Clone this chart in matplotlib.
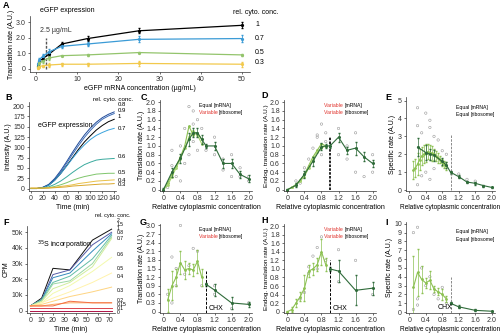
import matplotlib
matplotlib.use("Agg")
import matplotlib.pyplot as plt
import numpy as np

plt.rcParams['font.family'] = ['Liberation Sans', 'DejaVu Sans']
plt.rcParams['font.size'] = 5
plt.rcParams['axes.linewidth'] = 0.5
plt.rcParams['xtick.major.width'] = 0.5
plt.rcParams['ytick.major.width'] = 0.5
plt.rcParams['xtick.major.size'] = 1.5
plt.rcParams['ytick.major.size'] = 1.5
plt.rcParams['xtick.major.pad'] = 1.5
plt.rcParams['ytick.major.pad'] = 1.5

# ---------------- data ----------------
# Panel A
a_conc = [0.39, 0.78, 1.56, 3.125, 6.25, 12.5, 25, 50]
a_labels = ['1', '0.7', '0.5', '0.3']
a_rate_1 = [0.2, 0.5, 0.65, 0.95, 1.6, 1.95, 2.45, 2.8]
a_rate_07 = [0.3, 0.6, 0.8, 1.1, 1.45, 1.6, 1.9, 1.95]
a_rate_05 = [0.1, 0.35, 0.5, 0.7, 0.85, 0.9, 1.05, 0.9]
a_rate_03 = [0.05, 0.15, 0.2, 0.25, 0.3, 0.3, 0.35, 0.3]
a_err_1 = [0.1, 0.1, 0.1, 0.15, 0.1, 0.15, 0.15, 0.2]
a_err_07 = [0.1, 0.1, 0.15, 0.2, 0.1, 0.15, 0.2, 0.2]
a_err_05 = [0.05, 0.1, 0.1, 0.1, 0.05, 0.05, 0.05, 0.05]
a_err_03 = [0.05, 0.05, 0.05, 0.1, 0.1, 0.1, 0.15, 0.15]

# Panel B
b_time = [0, 10, 20, 30, 40, 50, 60, 70, 80, 90, 100, 110, 120, 130, 140]
b_labels = ['0.8', '0.9', '1', '0.7', '0.6', '0.5', '0.4', '0.3']
b_curves = [
    [0, 0, 3, 10, 24, 43, 65, 88, 110, 130, 147, 161, 172, 180, 186],
    [0, 0, 2, 9, 22, 40, 61, 83, 104, 124, 141, 156, 168, 176, 182],
    [0, 0, 2, 8, 20, 36, 55, 75, 95, 113, 128, 142, 153, 162, 168],
    [0, 0, 2, 8, 20, 36, 54, 73, 91, 106, 119, 129, 136, 142, 146],
    [0, 0, 1, 4, 10, 18, 28, 39, 49, 58, 64, 69, 71, 72, 73],
    [0, 0, 1, 2, 5, 9, 14, 20, 25, 29, 32, 35, 36, 37, 37],
    [1, 1, 1, 2, 3, 5, 7, 9, 12, 14, 16, 18, 19, 20, 21],
    [1, 1, 1, 1, 2, 3, 4, 6, 7, 8, 9, 10, 11, 11, 12],
]

# Panel C
c_x_light = [0, 0.1, 0.2, 0.3, 0.4, 0.5, 0.6, 0.7, 0.8, 0.9]
c_y_light1 = [0, 0.15, 0.35, 0.55, 0.75, 1.0, 1.45, 1.25, 1.3, 1.15]
c_y_light2 = [0, 0.1, 0.3, 0.5, 0.7, 0.95, 1.2, 1.35, 1.25, 1.05]
c_x_dark = [0, 0.2, 0.4, 0.6, 0.7, 0.8, 0.9, 1.0, 1.2, 1.4, 1.6, 1.8, 2.0]
c_y_dark = [0, 0.4, 0.72, 1.15, 1.3, 1.3, 1.15, 1.0, 1.0, 0.6, 0.6, 0.35, 0.25]
c_e_dark = [0.03, 0.1, 0.1, 0.15, 0.1, 0.1, 0.1, 0.05, 0.1, 0.1, 0.1, 0.08, 0.08]
c_sx = [0.1, 0.2, 0.2, 0.3, 0.4, 0.4, 0.5, 0.6, 0.6, 0.7, 0.7, 0.8, 0.8, 0.9, 1.0, 1.2, 1.2, 1.4, 1.4, 1.6, 1.6, 1.8, 1.8, 2.0, 2.0, 0.5, 0.7]
c_sy = [0.05, 0.55, 0.9, 0.3, 0.2, 1.0, 0.6, 1.9, 0.8, 1.8, 1.1, 1.6, 0.9, 1.4, 0.9, 1.2, 0.8, 0.7, 0.45, 0.8, 0.3, 0.5, 0.3, 0.3, 0.2, 1.4, 1.5]

# Panel D
d_x_light = [0, 0.1, 0.2, 0.3, 0.4, 0.5, 0.6, 0.7, 0.8, 0.9]
d_y_light1 = [0, 0.05, 0.12, 0.22, 0.35, 0.55, 0.75, 0.9, 1.05, 1.0]
d_y_light2 = [0, 0.05, 0.1, 0.2, 0.3, 0.5, 0.7, 0.85, 0.95, 1.0]
d_x_dark = [0, 0.2, 0.4, 0.6, 0.8, 0.9, 1.0, 1.2, 1.4, 1.6, 1.8, 2.0]
d_y_dark = [0, 0.1, 0.35, 0.65, 0.98, 1.0, 1.0, 1.2, 0.9, 0.95, 0.75, 0.6]
d_e_dark = [0.02, 0.05, 0.08, 0.1, 0.08, 0.05, 0.05, 0.1, 0.08, 0.15, 0.1, 0.08]
d_sx = [0.2, 0.3, 0.4, 0.5, 0.6, 0.7, 0.8, 0.8, 0.9, 1.2, 1.2, 1.4, 1.4, 1.6, 1.6, 1.8, 2.0, 2.0, 0.7, 0.9]
d_sy = [0.2, 0.15, 0.5, 0.7, 0.95, 1.25, 1.5, 0.8, 1.3, 1.4, 0.8, 0.7, 1.0, 1.3, 0.4, 0.3, 0.8, 0.4, 1.2, 1.1]

# Panel E
e_x_light = [0.1, 0.15, 0.2, 0.25, 0.3, 0.35, 0.4, 0.45, 0.5, 0.55, 0.6, 0.65, 0.7, 0.75, 0.8, 0.85, 0.9]
e_y_light = [1.1, 1.25, 1.45, 1.7, 1.9, 2.0, 2.05, 2.15, 2.1, 2.05, 2.0, 1.9, 1.8, 1.7, 1.55, 1.45, 1.35]
e_e_light = [0.5, 0.5, 0.6, 0.6, 0.5, 0.5, 0.5, 0.4, 0.4, 0.4, 0.3, 0.3, 0.3, 0.2, 0.2, 0.2, 0.2]
e_x_dark = [0.2, 0.4, 0.5, 0.6, 0.8, 0.9, 1.0, 1.2, 1.4, 1.6, 1.8, 2.0]
e_y_dark = [2.4, 2.1, 2.0, 1.95, 1.6, 1.4, 1.0, 0.75, 0.45, 0.38, 0.25, 0.15]
e_e_dark = [0.5, 0.4, 0.3, 0.3, 0.2, 0.15, 0.08, 0.1, 0.08, 0.08, 0.06, 0.05]
e_sx = [0.2, 0.2, 0.3, 0.4, 0.4, 0.5, 0.5, 0.6, 0.6, 0.7, 0.8, 0.9, 0.3, 0.2, 0.5, 1.2, 1.4, 1.6]
e_sy = [4.6, 3.6, 3.2, 4.3, 1.0, 3.5, 0.6, 3.0, 1.2, 2.8, 2.2, 2.0, 0.8, 0.3, 3.9, 0.9, 0.6, 0.5]

# Panel F
f_time = [0, 10, 20, 35, 55, 72]
f_labels = ['2', '1.5', '1', '0.8', '0.7', '0.6', '0.5', '0.4', '0.3', '0.2', '0.15', '0.1', '0']
f_curves = [
    [3, 8, 27, 26, 45, 52],
    [3, 7, 23, 26, 42, 50],
    [3, 7, 21, 24, 38, 49],
    [3, 7, 18, 22, 33, 48],
    [3, 6, 17, 19, 30, 47],
    [3, 6, 14, 18, 28, 46],
    [3, 5, 11, 16, 25, 34],
    [3, 5, 8, 12, 18, 24],
    [3, 4, 6, 9, 12, 15],
    [3, 3, 4, 5, 5, 5],
    [3, 3, 3, 6, 5, 5],
    [2, 2, 2, 2, 2, 2],
    [0, 0, 0, 0, 0, 0],
]

# Panel G
g_x_light = [0.1, 0.2, 0.3, 0.4, 0.5, 0.6, 0.7, 0.8, 0.9]
g_y_light = [0.4, 0.9, 1.2, 1.7, 1.45, 1.5, 1.45, 1.75, 1.2]
g_e_light = [0.4, 0.5, 0.3, 0.4, 0.3, 0.2, 0.2, 0.4, 0.3]
g_x_dark = [1.0, 1.2, 1.6, 2.0]
g_y_dark = [0.95, 0.75, 0.3, 0.25]
g_e_dark = [0.05, 0.2, 0.2, 0.1]
g_sx = [0.1, 0.2, 0.2, 0.3, 0.4, 0.5, 0.6, 0.8, 0.9, 1.2, 1.2, 1.6, 2.0, 0.3, 0.7]
g_sy = [0.6, 1.9, 0.3, 0.9, 3.0, 1.3, 1.6, 2.1, 0.9, 0.9, 0.6, 0.1, 0.3, 1.5, 2.2]

# Panel H
h_x_light = [0.0, 0.1, 0.2, 0.3, 0.4, 0.5, 0.6, 0.7, 0.8, 0.9]
h_y_light = [0.0, 0.05, 0.2, 0.35, 0.55, 0.95, 1.0, 1.1, 1.4, 1.1]
h_e_light = [0.02, 0.05, 0.1, 0.1, 0.3, 0.15, 0.15, 0.15, 0.3, 0.15]
h_x_dark = [1.0, 1.2, 1.6, 2.0]
h_y_dark = [1.0, 0.95, 0.5, 0.55]
h_e_dark = [0.05, 0.25, 0.35, 0.15]
h_sx = [0.3, 0.4, 0.5, 0.6, 0.7, 0.8, 0.9, 1.2, 1.2, 1.6, 2.0, 0.5, 0.7]
h_sy = [0.3, 0.45, 0.9, 1.3, 1.0, 1.75, 1.2, 1.45, 0.7, 1.2, 0.4, 1.05, 1.5]

# Panel I
i_x_light = [0.1, 0.2, 0.3, 0.4, 0.5, 0.6, 0.7, 0.8, 0.9]
i_y_light = [2.8, 4.5, 3.7, 3.3, 3.6, 2.6, 2.3, 2.0, 1.5]
i_e_light = [3.6, 2.7, 1.5, 0.6, 1.0, 0.3, 0.4, 0.6, 0.3]
i_x_dark = [1.0, 1.2, 1.6, 2.0]
i_y_dark = [1.0, 0.6, 0.2, 0.1]
i_e_dark = [0.1, 0.15, 0.1, 0.05]
i_sx = [0.1, 0.2, 0.2, 0.3, 0.4, 0.5, 0.6, 0.7, 0.8, 0.9, 0.1, 0.2]
i_sy = [9.0, 9.6, 1.5, 5.0, 3.0, 4.0, 2.0, 1.5, 2.8, 1.0, 0.3, 0.8]

# ---------------- drawing ----------------
W, H = 500, 333
fig = plt.figure(figsize=(5, 3.33), dpi=100)
LIGHT = '#8cc152'
DARK = '#2f6b3a'
PT = '#999999'
LEGFS = 3.7


def ax_px(l, t, r, b):
    ax = fig.add_axes([l / W, 1 - b / H, (r - l) / W, (b - t) / H])
    for s in ['top', 'right']:
        ax.spines[s].set_visible(False)
    for s in ['left', 'bottom']:
        ax.spines[s].set_color('#333333')
    ax.tick_params(colors='#333333', labelsize=5)
    ax.patch.set_alpha(0)
    return ax


def panel_letter(x, y, s):
    fig.text(x / W, 1 - y / H, s, fontsize=6.5, fontweight='bold', va='top', ha='left')


# A
ax = ax_px(30, 16, 250, 72)
cols_a = ['black', '#3b9bd6', '#93c46c', '#f2c94c']
for ys, es, c in zip([a_rate_1, a_rate_07, a_rate_05, a_rate_03], [a_err_1, a_err_07, a_err_05, a_err_03], cols_a):
    ax.errorbar(a_conc, ys, yerr=es, color=c, lw=0.9, marker='o', ms=1.3, capsize=0.8, elinewidth=0.6)
ax.vlines(2.5, 0, 2.0, colors='#555555', linestyles=(0, (2, 1)), lw=1.0)
ax.text(1, 2.35, '2.5 µg/mL', fontsize=5, color='#333333')
ax.set_xlim(-1.5, 52)
ax.set_ylim(-0.2, 3.4)
ax.set_xticks([0, 10, 20, 30, 40, 50])
ax.set_yticks([0, 1.0, 2.0, 3.0])
ax.set_yticklabels(['0', '1.0', '2.0', '3.0'])
ax.set_xlabel('eGFP mRNA concentration (µg/mL)', fontsize=5, labelpad=1)
ax.set_ylabel('Translation rate (A.U.)', fontsize=5, labelpad=1)
fig.text(40 / W, 1 - 11 / H, 'eGFP expression', fontsize=5, va='center')
fig.text(233 / W, 1 - 12 / H, 'rel. cyto. conc.', fontsize=5, va='center')
for lab, ypix in zip(a_labels, [24, 38, 53, 63]):
    fig.text(255 / W, 1 - ypix / H, lab, fontsize=5, va='center')
panel_letter(3, 1, 'A')

# B
ax = ax_px(29, 102, 116, 191)
cols_b = ['#1f4a99', '#3c6cb8', 'black', '#3aa3dc', '#3aaa9e', '#7fc56b', '#e9c046', '#d9a62a']
for ys, c in zip(b_curves, cols_b):
    ax.plot(b_time, ys, color=c, lw=0.7)
ax.set_xlim(-3, 143)
ax.set_ylim(-6, 210)
ax.set_xticks(range(0, 141, 20))
ax.set_yticks(range(0, 201, 25))
ax.set_xlabel('Time (min)', fontsize=5, labelpad=1)
ax.set_ylabel('Intensity (A.U.)', fontsize=5, labelpad=1)
ax.text(12, 150, 'eGFP expression', fontsize=5)
fig.text(93 / W, 1 - 99 / H, 'rel. cyto. conc.', fontsize=4.5, va='center')
for lab, ypix in zip(b_labels, [105, 110, 117, 128, 157, 173, 181, 185]):
    fig.text(118 / W, 1 - ypix / H, lab, fontsize=4.3, va='center')
panel_letter(5, 93, 'B')


def rel_panel(l, t, r, b, letter, lx, ly, xfs=5):
    ax = ax_px(l, t, r, b)
    panel_letter(lx, ly, letter)
    ax.set_xlim(-0.08, 2.08)
    ax.set_xticks([0, 0.4, 0.8, 1.2, 1.6, 2.0])
    ax.set_xticklabels(['0', '0.4', '0.8', '1.2', '1.6', '2.0'])
    ax.set_xlabel('Relative cytoplasmic concentration', fontsize=xfs, labelpad=1)
    return ax


def legend_text(ax, x, y, first, second):
    renderer = fig.canvas.get_renderer()
    for i, (word, rest) in enumerate([(first, '[mRNA]'), (second, '[ribosome]')]):
        col = '#e0302a' if word == 'Variable' else 'black'
        t = ax.text(x, y - i * 0.08, word + ' ', transform=ax.transAxes, fontsize=LEGFS, color=col, va='top')
        bb = t.get_window_extent(renderer=renderer)
        inv = ax.transAxes.inverted()
        x2 = inv.transform((bb.x1, bb.y0))[0]
        ax.text(x2, y - i * 0.08, rest, transform=ax.transAxes, fontsize=LEGFS, color='black', va='top')


yt2 = [0, 0.2, 0.4, 0.6, 0.8, 1.0, 1.2, 1.4, 1.6, 1.8, 2.0]
yt2l = ['0', '0.2', '0.4', '0.6', '0.8', '1.0', '1.2', '1.4', '1.6', '1.8', '2.0']

# C
ax = rel_panel(160, 100, 252, 191, 'C', 141, 93)
ax.scatter(c_sx, c_sy, s=3, facecolors='none', edgecolors=PT, linewidths=0.4)
ax.plot(c_x_light, c_y_light1, color=LIGHT, lw=0.8, marker='o', ms=1)
ax.plot(c_x_light, c_y_light2, color='#a6d46e', lw=0.8, marker='o', ms=1)
ax.errorbar(c_x_dark, c_y_dark, yerr=c_e_dark, color=DARK, lw=0.8, marker='o', ms=1.2, capsize=0.8, elinewidth=0.5)
ax.set_ylim(-0.03, 2.05)
ax.set_yticks(yt2)
ax.set_yticklabels(yt2l)
ax.set_ylabel('Translation rate (A.U.)', fontsize=5, labelpad=1)
legend_text(ax, 0.42, 0.97, 'Equal', 'Variable')

# D
ax = rel_panel(284, 100, 376, 191, 'D', 261, 91)
ax.scatter(d_sx, d_sy, s=3, facecolors='none', edgecolors=PT, linewidths=0.4)
ax.plot(d_x_light, d_y_light1, color=LIGHT, lw=0.8, marker='o', ms=1)
ax.plot(d_x_light, d_y_light2, color='#a6d46e', lw=0.8, marker='o', ms=1)
ax.errorbar(d_x_dark, d_y_dark, yerr=d_e_dark, color=DARK, lw=0.8, marker='o', ms=1.2, capsize=0.8, elinewidth=0.5)
ax.vlines(1.0, 0, 1.2, colors='black', linestyles=(0, (1.5, 0.8)), lw=1.2)
ax.set_ylim(-0.03, 2.05)
ax.set_yticks(yt2)
ax.set_yticklabels(yt2l)
ax.set_ylabel('Endog. translation rate (A.U.)', fontsize=4.6, labelpad=1)
legend_text(ax, 0.44, 0.97, 'Variable', 'Variable')

# E
ax = rel_panel(406, 97, 495, 191, 'E', 385, 93, xfs=4.7)
ax.scatter(e_sx, e_sy, s=3, facecolors='none', edgecolors=PT, linewidths=0.4)
ax.errorbar(e_x_light, e_y_light, yerr=e_e_light, color=LIGHT, lw=0.8, marker='o', ms=1, capsize=0.8, elinewidth=0.5)
ax.errorbar(e_x_dark, e_y_dark, yerr=e_e_dark, color=DARK, lw=0.8, marker='o', ms=1.2, capsize=0.8, elinewidth=0.5)
ax.vlines(1.0, 0, 3.1, colors='#777777', linestyles=(0, (3, 1.5)), lw=0.6)
ax.set_ylim(-0.05, 5.2)
ax.set_yticks([0, 1, 2, 3, 4, 5])
ax.set_ylabel('Specific rate (A.U.)', fontsize=5, labelpad=1)
legend_text(ax, 0.56, 0.92, 'Equal', 'Equal')

# F
ax = ax_px(27, 226, 115, 313)
cmap = plt.get_cmap('Spectral')
nF = len(f_curves)
cols_f = ['#111111'] + [cmap(0.98 - 0.95 * (i - 1) / (nF - 2)) for i in range(1, nF)]
for ys, c in zip(f_curves, cols_f):
    ax.plot(f_time, [v * 1000 for v in ys], color=c, lw=0.7)
ax.set_xlim(-3, 75)
ax.set_ylim(-1500, 54000)
ax.set_xticks(range(0, 71, 10))
ax.set_yticks([0, 10000, 20000, 30000, 40000, 50000])
ax.set_yticklabels(['0', '10k', '20k', '30k', '40k', '50k'])
ax.set_xlabel('Time (min)', fontsize=5, labelpad=1)
ax.set_ylabel('CPM', fontsize=5, labelpad=1)
ax.text(6, 40000, r'$^{35}$S incorporation', fontsize=5)
fig.text(95 / W, 1 - 216 / H, 'rel. cyto. conc.', fontsize=4, va='center')
for i, lab in enumerate(f_labels):
    ypix = [221, 225, 229, 233, 238, 254, 268, 277, 290, 300, 304, 308, 312][i]
    fig.text(117 / W, 1 - ypix / H, lab, fontsize=3.6, va='center')
panel_letter(3, 218, 'F')

# G
ax = rel_panel(160, 224, 252, 313, 'G', 140, 218)
ax.scatter(g_sx, g_sy, s=3, facecolors='none', edgecolors=PT, linewidths=0.4)
ax.errorbar(g_x_light, g_y_light, yerr=g_e_light, color=LIGHT, lw=0.8, marker='o', ms=1, capsize=0.8, elinewidth=0.5)
ax.errorbar(g_x_dark, g_y_dark, yerr=g_e_dark, color=DARK, lw=0.8, marker='o', ms=1.2, capsize=0.8, elinewidth=0.5)
ax.vlines(1.0, -0.05, 1.4, colors='black', linestyles=(0, (3, 1.5)), lw=0.7)
ax.text(1.05, 0.05, 'CHX', fontsize=5)
ax.set_ylim(-0.05, 3.05)
ax.set_yticks([0, 0.3, 0.6, 0.9, 1.2, 1.5, 1.8, 2.1, 2.4, 2.7, 3.0])
ax.set_yticklabels(['0', '0.3', '0.6', '0.9', '1.2', '1.5', '1.8', '2.1', '2.4', '2.7', '3.0'])
ax.set_ylabel('Translation rate (A.U.)', fontsize=5, labelpad=1)
legend_text(ax, 0.42, 0.97, 'Equal', 'Variable')

# H
ax = rel_panel(284, 224, 376, 313, 'H', 261, 216)
ax.scatter(h_sx, h_sy, s=3, facecolors='none', edgecolors=PT, linewidths=0.4)
ax.errorbar(h_x_light, h_y_light, yerr=h_e_light, color=LIGHT, lw=0.8, marker='o', ms=1, capsize=0.8, elinewidth=0.5)
ax.errorbar(h_x_dark, h_y_dark, yerr=h_e_dark, color=DARK, lw=0.8, marker='o', ms=1.2, capsize=0.8, elinewidth=0.5)
ax.vlines(1.0, -0.03, 1.2, colors='black', linestyles=(0, (3, 1.5)), lw=0.7)
ax.text(1.05, 0.03, 'CHX', fontsize=5)
ax.set_ylim(-0.03, 2.05)
ax.set_yticks(yt2)
ax.set_yticklabels(yt2l)
ax.set_ylabel('Endog. translation rate (A.U.)', fontsize=4.6, labelpad=1)
legend_text(ax, 0.44, 0.97, 'Variable', 'Variable')

# I
ax = rel_panel(406, 222, 495, 313, 'I', 385, 218, xfs=4.7)
ax.scatter(i_sx, i_sy, s=3, facecolors='none', edgecolors=PT, linewidths=0.4)
ax.errorbar(i_x_light, i_y_light, yerr=i_e_light, color=LIGHT, lw=0.8, marker='o', ms=1, capsize=0.8, elinewidth=0.5)
ax.errorbar(i_x_dark, i_y_dark, yerr=i_e_dark, color=DARK, lw=0.8, marker='o', ms=1.2, capsize=0.8, elinewidth=0.5)
ax.vlines(1.0, -0.1, 4.0, colors='#777777', linestyles=(0, (3, 1.5)), lw=0.6)
ax.text(0.68, 0.4, 'CHX', fontsize=5)
ax.set_ylim(-0.1, 10.2)
ax.set_yticks(range(0, 11))
ax.set_ylabel('Specific rate (A.U.)', fontsize=5, labelpad=1)
legend_text(ax, 0.56, 0.92, 'Equal', 'Equal')

fig.savefig('out.png', dpi=100)
